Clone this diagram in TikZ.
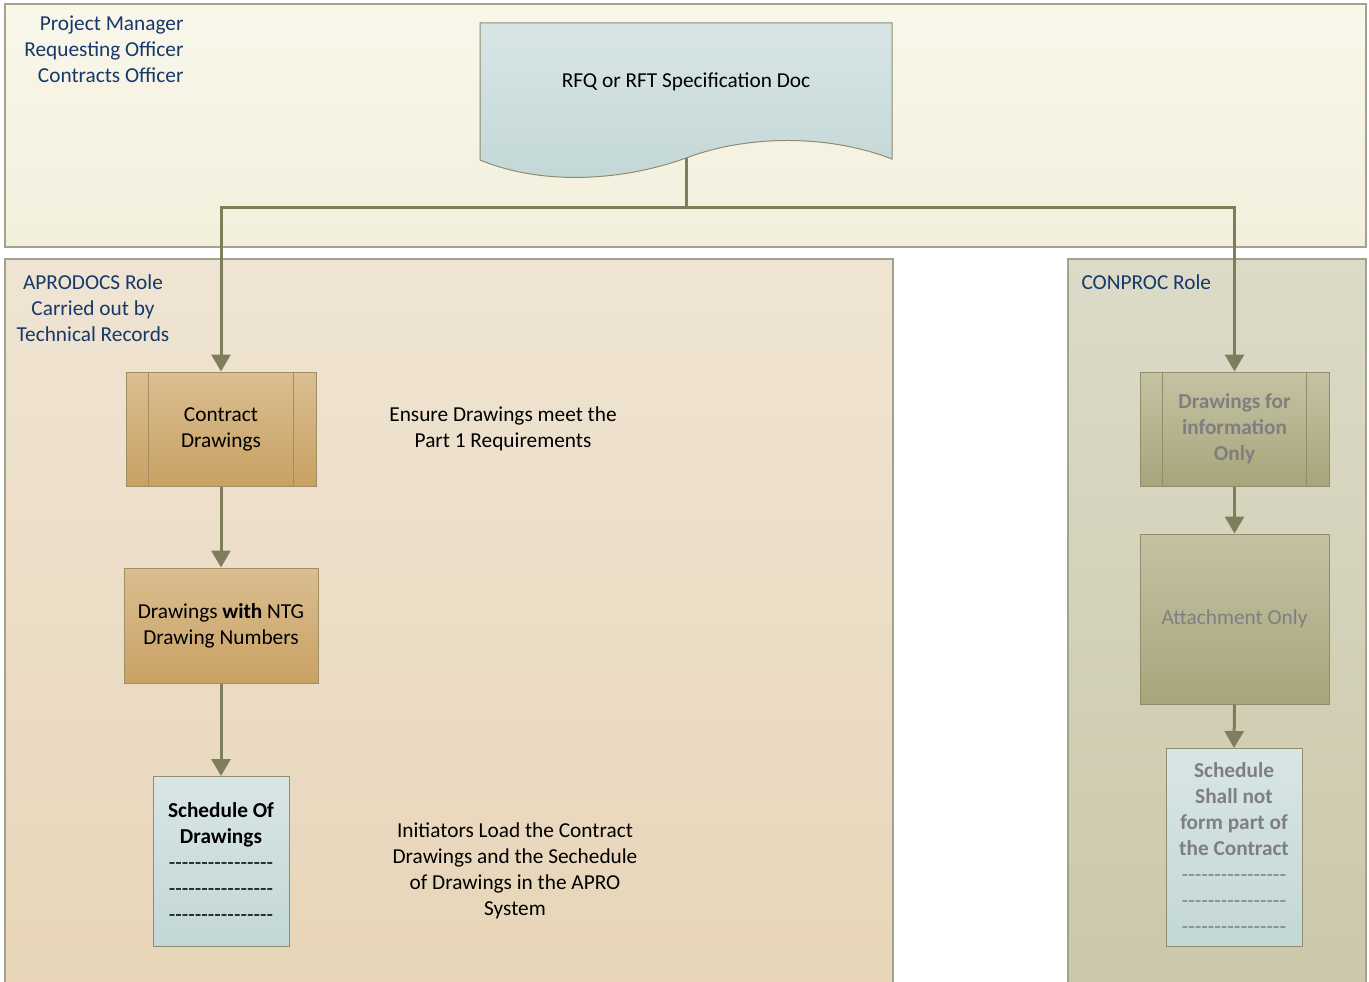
\documentclass[tikz,border=0pt]{standalone}
\usepackage{fontspec}
\setmainfont{Carlito}
\usetikzlibrary{arrows.meta}
\definecolor{edge}{HTML}{A3A28A}
\definecolor{conn}{HTML}{7F7E5C}
\definecolor{titleblue}{HTML}{17386A}
\definecolor{greytext}{HTML}{7F7F7F}
\definecolor{creamtop}{HTML}{F9F7EA}
\definecolor{creambot}{HTML}{F2EFDC}
\definecolor{orangeedge}{HTML}{A08E62}
\definecolor{orangetop}{HTML}{DABE91}
\definecolor{orangebot}{HTML}{C9A163}
\definecolor{oliveedge}{HTML}{8F8D6A}
\definecolor{olivetop}{HTML}{C4C2A3}
\definecolor{olivebot}{HTML}{A8A57C}
\definecolor{blueedge}{HTML}{8E8D6F}
\definecolor{bluetop}{HTML}{D8E5E5}
\definecolor{bluebot}{HTML}{C3D7D7}
\definecolor{tantop}{HTML}{EFE4D3}
\definecolor{tanbot}{HTML}{E8D5B8}
\definecolor{khakitop}{HTML}{DCDBC8}
\definecolor{khakibot}{HTML}{CBC7AA}
\newcommand{\dashrow}{-{}-{}-{}-{}-{}-{}-{}-{}-{}-{}-{}-{}-{}-{}-{}-}
\tikzset{
  band/.style={draw=edge, line width=1.2pt},
  basefont/.style={font=\fontsize{21.3}{26}\selectfont, align=center},
  orangebox/.style={basefont, draw=orangeedge, line width=1pt, top color=orangetop, bottom color=orangebot, inner sep=0pt},
  olivebox/.style={basefont, draw=oliveedge, line width=1pt, top color=olivetop, bottom color=olivebot, inner sep=0pt, text=greytext},
  bluebox/.style={basefont, draw=blueedge, line width=1pt, top color=bluetop, bottom color=bluebot, inner sep=0pt},
  flow/.style={draw=conn, line width=3pt, -{Triangle[width=19pt,length=17pt]}},
  plainline/.style={draw=conn, line width=3pt},
  roletext/.style={basefont, text=titleblue},
}
\begin{document}
\begin{tikzpicture}[x=1pt,y=-1pt]
\useasboundingbox[fill=white] (0,0) rectangle (1369,982);
% swimlanes
\path[band, top color=creamtop, bottom color=creambot] (5,4) rectangle (1366,247);
\path[band, top color=tantop, bottom color=tanbot] (5,259) rectangle (893,995);
\path[band, top color=khakitop, bottom color=khakibot] (1068,259) rectangle (1366,995);
% role labels
\node[roletext, align=right, anchor=north east] (roles) at (187,12) {Project Manager\\Requesting Officer\\Contracts Officer};
\node[roletext, anchor=north] (aprodocs) at (93,271) {APRODOCS Role\\Carried out by\\Technical Records};
\node[roletext, anchor=north west] (conproc) at (1078,271) {CONPROC Role};
% RFQ document shape
\path[draw=blueedge, line width=1pt, top color=bluetop, bottom color=bluebot]
  (480,23) -- (892,23) -- (892,159)
  .. controls (830,135) and (750,134) .. (686,158)
  .. controls (620,182) and (540,185) .. (480,160) -- cycle;
\node[basefont] (rfq) at (686,82) {RFQ or RFT Specification Doc};
\coordinate (rfqb) at (686,158);
\coordinate (split) at (686,207);
% left lane
\node[orangebox, minimum width=190pt, minimum height=114pt] (cd) at (221,429) {Contract\\Drawings};
\draw[draw=orangeedge, line width=1pt] ([xshift=23pt]cd.north west) -- ([xshift=23pt]cd.south west)
  ([xshift=-23pt]cd.north east) -- ([xshift=-23pt]cd.south east);
\node[orangebox, minimum width=194pt, minimum height=115pt] (ntg) at (221,625.5) {Drawings \textbf{with} NTG\\Drawing Numbers};
\node[bluebox, minimum width=136pt, minimum height=170pt, anchor=north] (sod) at (221,776) {};
\node[basefont, anchor=north] (sodtext) at (221,799) {\textbf{Schedule Of}\\\textbf{Drawings}\\\dashrow\\\dashrow\\\dashrow};
\node[basefont] (ensure) at (503,429) {Ensure Drawings meet the\\Part 1 Requirements};
\node[basefont] (init) at (515,871) {Initiators Load the Contract\\Drawings and the Sechedule\\of Drawings in the APRO\\System};
% right lane
\node[olivebox, font=\fontsize{21.3}{26}\selectfont\bfseries, minimum width=189pt, minimum height=114pt] (dfi) at (1234.5,429) {Drawings for\\information\\Only};
\draw[draw=oliveedge, line width=1pt] ([xshift=23pt]dfi.north west) -- ([xshift=23pt]dfi.south west)
  ([xshift=-23pt]dfi.north east) -- ([xshift=-23pt]dfi.south east);
\node[olivebox, minimum width=189pt, minimum height=170pt] (att) at (1234.5,619) {Attachment Only};
\node[bluebox, minimum width=136pt, minimum height=198pt, anchor=north] (snf) at (1234,748) {};
\node[basefont, text=greytext, anchor=north] (snftext) at (1234,759) {\textbf{Schedule}\\\textbf{Shall not}\\\textbf{form part of}\\\textbf{the Contract}\\\dashrow\\\dashrow\\\dashrow};
% connectors
\draw[plainline] (rfqb) -- (split);
\draw[flow] (split) -| (cd.north);
\draw[flow] (split) -| (dfi.north);
\draw[flow] (cd.south) -- (ntg.north);
\draw[flow] (ntg.south) -- (sod.north);
\draw[flow] (dfi.south) -- (att.north);
\draw[flow] (att.south) -- (snf.north);
\end{tikzpicture}
\end{document}
